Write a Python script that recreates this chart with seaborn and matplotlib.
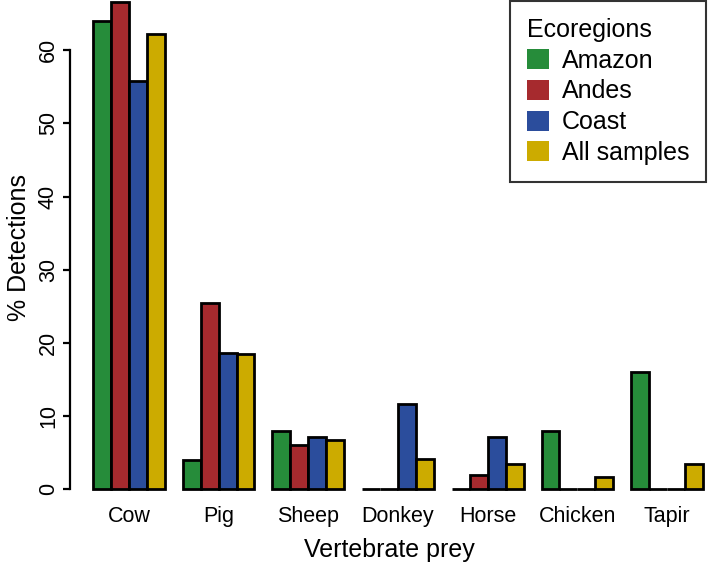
import numpy as np
import pandas as pd
import seaborn as sns
from matplotlib import pyplot as plt

# values (% detections)
prey = ['Cow', 'Pig', 'Sheep', 'Donkey', 'Horse', 'Chicken', 'Tapir']
regions = ['Amazon', 'Andes', 'Coast', 'All samples']
amazon = [64.0, 4.0, 8.0, 0.0, 0.0, 8.0, 16.0]
andes = [66.6, 25.5, 6.0, 0.0, 2.0, 0.0, 0.0]
coast = [55.8, 18.6, 7.1, 11.6, 7.1, 0.0, 0.0]
all_samples = [62.2, 18.5, 6.7, 4.2, 3.4, 1.7, 3.4]
colours = ['#268c3a', '#a62a2e', '#2b4d9c', '#ccab00']

rows = []
for reg, vals in zip(regions, [amazon, andes, coast, all_samples]):
    for p, v in zip(prey, vals):
        rows.append({'prey': p, 'region': reg, 'pct': v})
df = pd.DataFrame(rows)

sns.set_theme(style="white")
plt.rcParams['font.family'] = ['Liberation Sans', 'DejaVu Sans']
plt.rcParams['text.color'] = 'black'
plt.rcParams['axes.labelcolor'] = 'black'
plt.rcParams['xtick.color'] = 'black'
plt.rcParams['ytick.color'] = 'black'

W, H = 709, 564
fig = plt.figure(figsize=(W / 100, H / 100), dpi=100)
# axes placed in pixel terms: left spine at x=70, y=0 line at 489
ax_left, ax_bottom, ax_top = 70, 495, 0
ax = fig.add_axes([ax_left / W, 1 - ax_bottom / H, 1 - ax_left / W, (ax_bottom - ax_top) / H])

sns.barplot(data=df, x='prey', y='pct', hue='region', hue_order=regions, order=prey,
            palette=colours, edgecolor='black', linewidth=2, width=0.8, saturation=1, ax=ax)

px_per_unit = 89.7
cow_px = 128.9
ax.set_xlim((ax_left - cow_px) / px_per_unit, (W - cow_px) / px_per_unit)
py = 7.317
ax.set_ylim(-(ax_bottom - 489.3) / py, (489.3 - ax_top) / py)

for s in ['top', 'right', 'bottom']:
    ax.spines[s].set_visible(False)
ax.spines['left'].set_bounds(0, 60)
ax.spines['left'].set_color('black')
ax.spines['left'].set_linewidth(1.6)
ax.set_yticks(np.arange(0, 61, 10))
ax.tick_params(axis='y', left=True, length=5, width=1.6, color='black', pad=3, labelsize=15.5)
for t in ax.get_yticklabels():
    t.set_rotation(90)
    t.set_va('center')
ax.tick_params(axis='x', bottom=False, pad=2, labelsize=15.5)

ax.set_xlabel('Vertebrate prey', fontsize=18, labelpad=8)
ax.set_ylabel('% Detections', fontsize=18, labelpad=5)

handles, labels = ax.get_legend_handles_labels()
leg = ax.legend(handles, labels, title='Ecoregions', loc='upper right',
                bbox_to_anchor=(706 / W, 1 - 1 / H), bbox_transform=fig.transFigure,
                borderaxespad=0, fontsize=18, title_fontsize=18, alignment='left',
                fancybox=False, edgecolor='#333333', framealpha=1,
                handlelength=0.88, handleheight=0.85, handletextpad=0.5,
                labelspacing=0.27, borderpad=0.68)
leg.get_frame().set_linewidth(1.5)
for h in leg.legend_handles:
    h.set_edgecolor('none')

fig.savefig('out.png', dpi=100)
